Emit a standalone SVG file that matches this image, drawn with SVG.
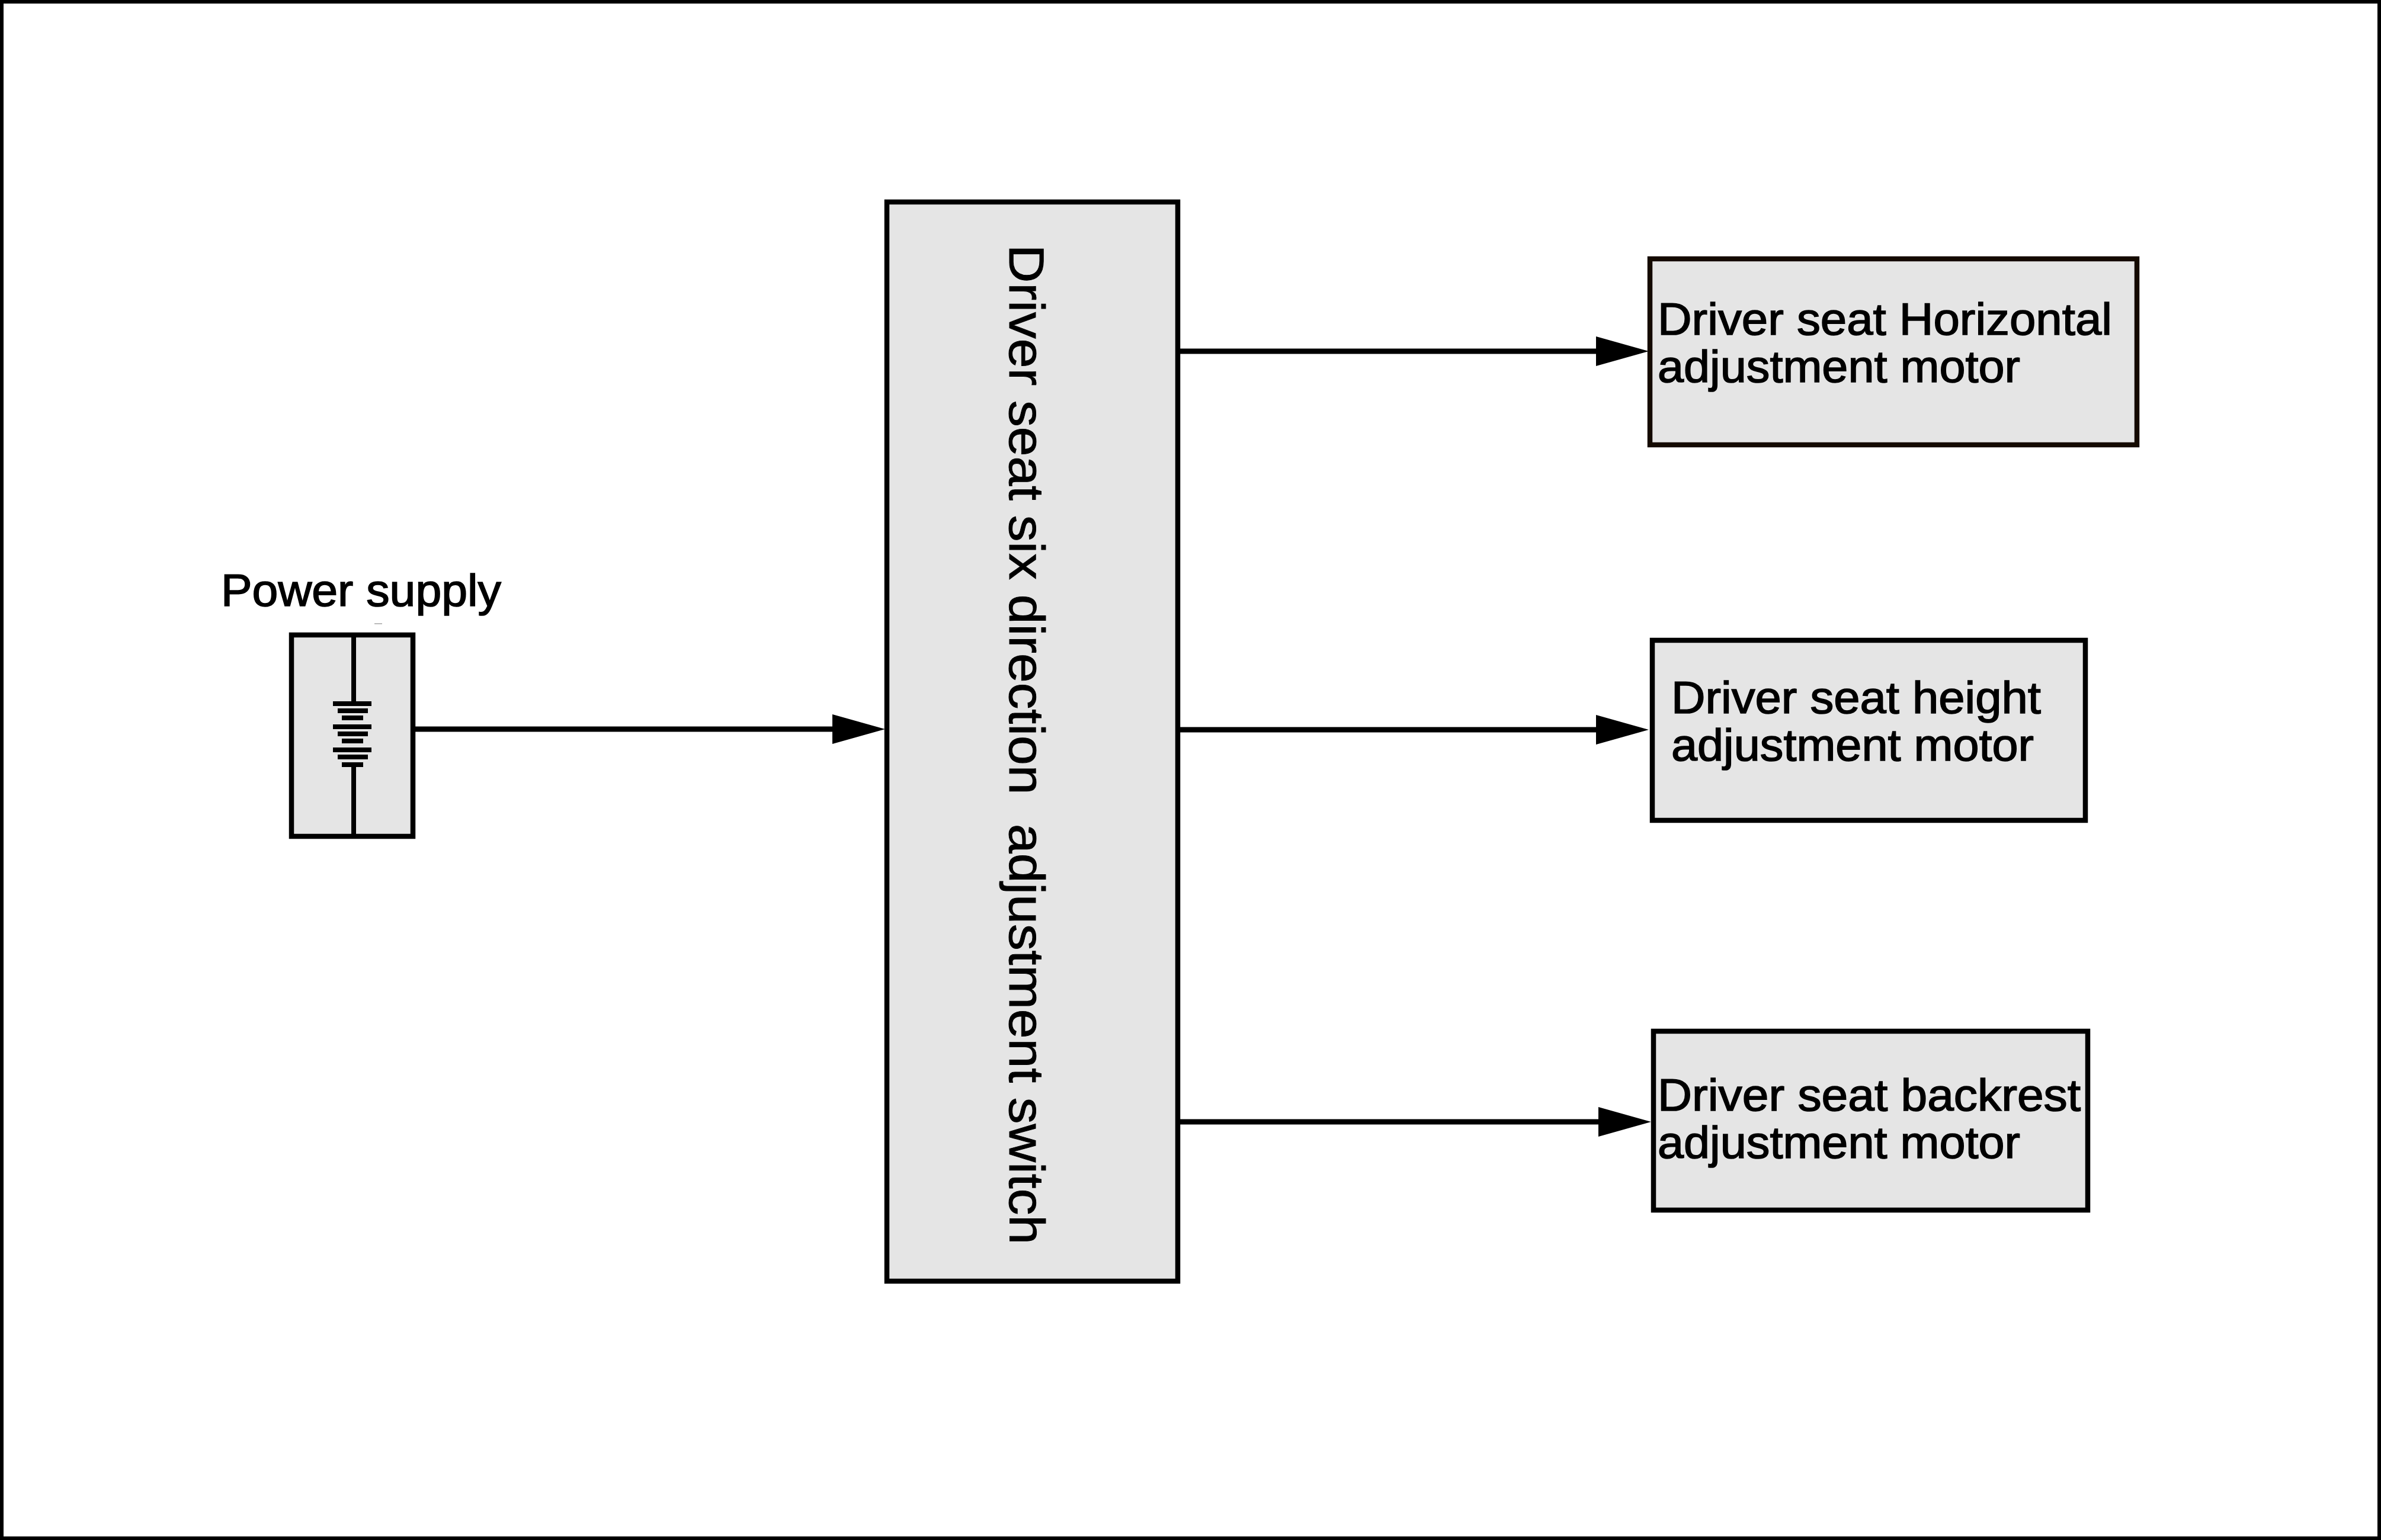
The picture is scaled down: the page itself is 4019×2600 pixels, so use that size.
<svg xmlns="http://www.w3.org/2000/svg" width="4019" height="2600" viewBox="0 0 4019 2600">
<style>
.box{fill:#e5e5e5;stroke:#000;stroke-width:8.5}
.lbl{font-family:"Liberation Sans",Arial,sans-serif;font-size:76px;fill:#000;stroke:#000;stroke-width:1.6}
.wire{stroke:#000;stroke-width:8;fill:none}
.conn{stroke:#000;stroke-width:9;fill:none;marker-end:url(#arrow)}
</style>
<defs>
<marker id="arrow" markerUnits="userSpaceOnUse" markerWidth="89" markerHeight="50" viewBox="0 0 89 50" refX="49" refY="25" orient="auto">
<path d="M0 0L89 25L0 50Z" fill="#000"/>
</marker>
</defs>
<rect id="frame" x="3" y="3" width="4013" height="2594" fill="#fff" stroke="#000" stroke-width="6"/>
<g id="power-supply">
<rect class="box" x="492" y="1072" width="205" height="340"/>
<path class="wire" d="M597 1072V1186M597 1294V1412"/>
<path fill="#000" d="M562 1184h65v8h-65zM570 1196h51v8h-51zM577 1208h36v8h-36zM562 1223h65v8h-65zM570 1235h51v8h-51zM577 1247h36v8h-36zM562 1262h65v8h-65zM570 1274h51v8h-51zM577 1287h36v8h-36z"/>
<rect x="632" y="1052" width="13" height="2" fill="#bbb"/>
<text class="lbl" x="373" y="1023" textLength="473" lengthAdjust="spacingAndGlyphs">Power supply</text>
</g>
<g id="switch">
<rect class="box" x="1497" y="341" width="491" height="1822"/>
<text class="lbl" transform="translate(1704 413) rotate(90)" xml:space="preserve" textLength="1688" lengthAdjust="spacingAndGlyphs" style="font-size:83px;stroke-width:1">Driver seat six direction  adjustment switch</text>
</g>
<g id="motor-horizontal">
<rect class="box" x="2785" y="437" width="822" height="314" style="stroke:#140a00"/>
<text class="lbl" x="2798" y="565" textLength="767" lengthAdjust="spacingAndGlyphs">Driver seat Horizontal</text>
<text class="lbl" x="2798" y="645" textLength="612" lengthAdjust="spacingAndGlyphs">adjustment motor</text>
</g>
<g id="motor-height">
<rect class="box" x="2789" y="1081" width="731" height="304"/>
<text class="lbl" x="2821" y="1204" textLength="624" lengthAdjust="spacingAndGlyphs">Driver seat height</text>
<text class="lbl" x="2821" y="1284" textLength="612" lengthAdjust="spacingAndGlyphs">adjustment motor</text>
</g>
<g id="motor-backrest">
<rect class="box" x="2791" y="1741" width="733" height="302"/>
<text class="lbl" x="2798" y="1875" textLength="714" lengthAdjust="spacingAndGlyphs">Driver seat backrest</text>
<text class="lbl" x="2798" y="1955" textLength="612" lengthAdjust="spacingAndGlyphs">adjustment motor</text>
</g>
<g id="connectors">
<path class="conn" d="M701 1231H1454"/>
<path class="conn" d="M1990 593H2743"/>
<path class="conn" d="M1990 1232H2743"/>
<path class="conn" d="M1990 1894H2747"/>
</g>
</svg>
